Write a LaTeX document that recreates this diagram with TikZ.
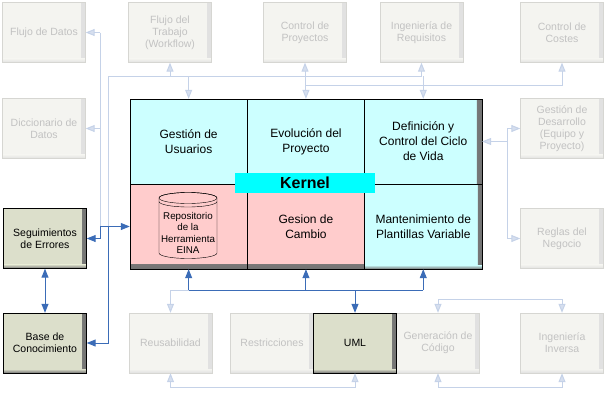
\documentclass[tikz,border=0pt]{standalone}
\usepackage{fontspec}
\setmainfont{Liberation Sans}
\usetikzlibrary{arrows.meta}
\definecolor{gfill}{HTML}{F4F4F0}
\definecolor{gline}{HTML}{D6D6D2}
\definecolor{gtext}{HTML}{C2C2C2}
\definecolor{dfill}{HTML}{DCDFCB}
\definecolor{kcyan}{HTML}{CCFFFF}
\definecolor{kpink}{HTML}{FFCCCC}
\definecolor{klabel}{HTML}{00FFFF}
\definecolor{lline}{HTML}{C5D2E8}
\definecolor{bline}{HTML}{3B6CB7}
\begin{document}
\begin{tikzpicture}[x=1pt, y=-1pt,
  edge/.style 2 args={path picture={
    \shade[left color=#1, right color=#2] ([xshift=-4pt]path picture bounding box.north east) rectangle (path picture bounding box.south east);
    \shade[top color=#1, bottom color=#2] ([yshift=4pt]path picture bounding box.south west) rectangle (path picture bounding box.south east);}},
  redge/.style 2 args={path picture={
    \shade[left color=#1, right color=#2] ([xshift=-5pt]path picture bounding box.north east) rectangle (path picture bounding box.south east);}},
  bedge/.style 2 args={path picture={
    \shade[top color=#1, bottom color=#2] ([yshift=5pt]path picture bounding box.south west) rectangle (path picture bounding box.south east);}},
  gbox/.style={draw=gline, fill=gfill, text=gtext, edge={gfill}{black!12}, minimum width=83pt, minimum height=60pt, inner sep=1pt, align=center, font=\fontsize{10.5}{12}\selectfont},
  dbox/.style={gbox, draw=black, fill=dfill, text=black, edge={dfill}{black!55}},
  cell/.style={draw=black, minimum width=117.3pt, minimum height=85pt, inner sep=1pt, align=center, font=\fontsize{12}{15}\selectfont},
  lt/.style={draw=lline, line width=1pt, >={Triangle[width=7pt,length=9pt,fill=lline!70!white]}},
  bl/.style={draw=bline, line width=1pt, >={Triangle[width=7pt,length=9pt]}}]
\useasboundingbox (0,0) rectangle (608,402);

\node[gbox] (1) at (44,32.5) {Flujo de Datos};
\node[gbox] (2) at (170,32.5) {Flujo del\\Trabajo\\(Workflow)};
\node[gbox] (3) at (305,32.5) {Control de\\Proyectos};
\node[gbox] (4) at (421.5,32.5) {Ingeniería de\\Requisitos};
\node[gbox] (5) at (562,32.5) {Control de\\Costes};
\node[gbox] (6) at (44,128.5) {Diccionario de\\Datos};
\node[gbox] (7) at (562,128.5) {Gestión de\\Desarrollo\\(Equipo y\\Proyecto)};
\node[dbox] (8) at (45,238.5) {Seguimientos\\de Errores};
\node[gbox] (9) at (562,238.5) {Reglas del\\Negocio};
\node[dbox] (10) at (45,343) {Base de\\Conocimiento};
\node[gbox] (11) at (170.5,343) {Reusabilidad};
\node[gbox] (12) at (272,343) {Restricciones};
\node[gbox] (14) at (438,343) {Generación de\\Código};
\node[dbox] (13) at (355,343) {UML};
\node[gbox] (15) at (562,343) {Ingeniería\\Inversa};

% kernel
\node[cell, fill=kcyan] (16) at (188.65,141.5) {Gestión de\\Usuarios};
\node[cell, fill=kcyan] (17) at (305.95,141.5) {Evolución del\\Proyecto};
\node[cell, fill=kcyan, redge={kcyan}{black!55}] (18) at (423.25,141.5) {Definición y\\Control del Ciclo\\de Vida};
\node[cell, fill=kpink, bedge={kpink}{black!55}] (19) at (188.65,226.5) {};
\node[cell, fill=kpink, bedge={kpink}{black!55}] (20) at (305.95,226.5) {Gesion de\\Cambio};
\node[cell, fill=kcyan, edge={kcyan}{black!55}] (21) at (423.25,226.5) {Mantenimiento de\\Plantillas Variable};
\node[draw=black, minimum width=352pt, minimum height=170pt] (24) at (306,184) {};

\filldraw[fill=kpink] (159,198) -- (159,253) arc[start angle=180, end angle=360, x radius=29pt, y radius=5.5pt]
  -- (217,198) arc[start angle=0, end angle=180, x radius=29pt, y radius=5.5pt] -- cycle;
\draw (188,198) ellipse[x radius=29pt, y radius=5.5pt];
\draw (159,201.5) arc[start angle=180, end angle=360, x radius=29pt, y radius=5.5pt];
\node[align=center, inner sep=0pt, font=\fontsize{9.8}{11.3}\selectfont] (22) at (188,233) {Repositorio\\de la\\Herramienta\\EINA};

\node[fill=klabel, minimum width=140pt, minimum height=20pt, inner sep=0pt, font=\bfseries\fontsize{16}{16}\selectfont] (23) at (305,183) {Kernel};

\coordinate (c1) at (108,76);
\coordinate (c2) at (305,85);
\coordinate (c3) at (100,226.5);
\coordinate (c4) at (108,226.5);
\coordinate (c5) at (507,141.5);
\coordinate (c6) at (305,290);
\coordinate (c7) at (0,387);
\coordinate (c8) at (0,299);

% top
\path[lt] (c1) -- (c1 -| 4.south);
\path[lt,->] (c1 -| 2.south) -- (2.south);
\path[lt,->] (c1 -| 3.south) -- (3.south);
\path[lt,->] (c1 -| 4.south) -- (4.south);
\path[lt,->] (c1 -| 16.north) -- (16.north);
\path[lt,->] (c1 -| 17.north) -- (17.north);
\path[lt,->] (c1 -| 18.north) -- (18.north);
\path[lt,->] (c2) -- (c2 -| 5.south) -- (5.south);

% left
\path[lt] (c1) -- (c4);
\path[lt] (c3 |- 1.east) -- (c3);
\path[lt,->] (c3 |- 1.east) -- (1.east);
\path[lt,->] (c3 |- 6.east) -- (6.east);
\path[bl,->] (c3) -- (19.west);
\path[bl,->] (c3) -- (c3 |- 8.east) -- (8.east);
\path[bl,->] (c4) -- (c4 |- 10.east) -- (10.east);
\path[bl,<->] (8.south) -- (10.north);

% right
\path[lt,->] (c5) -- (18.east);
\path[lt,->] (c5) -- (c5 |- 7.west) -- (7.west);
\path[lt,->] (c5) -- (c5 |- 9.west) -- (9.west);

% bottom
\path[bl] (c6 -| 19.south) -- (c6 -| 21.south);
\path[bl,->] (c6 -| 19.south) -- (19.south);
\path[bl,->] (c6 -| 20.south) -- (20.south);
\path[bl,->] (c6 -| 21.south) -- (21.south);
\path[bl,->] (c6 -| 13.north) -- (13.north);
\path[lt,->] (c6 -| 19.south) -- (c6 -| 11.north) -- (11.north);
\path[lt,<->] (11.south) -- (11.south |- c7) -- (13.south |- c7) -- (13.south);
\path[lt,<->] (14.south) -- (14.south |- c7) -- (15.south |- c7) -- (15.south);
\path[lt,<->] (14.north) -- (14.north |- c8) -- (15.north |- c8) -- (15.north);
\end{tikzpicture}
\end{document}
